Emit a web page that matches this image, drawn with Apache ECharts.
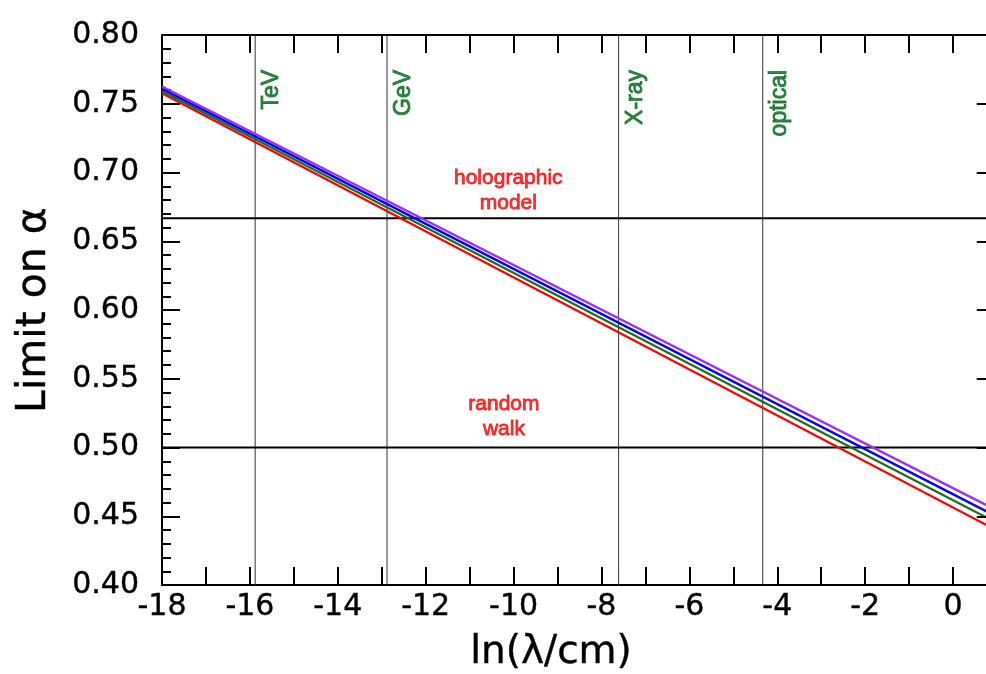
<!DOCTYPE html>
<html>
<head>
<meta charset="utf-8">
<script src="https://cdn.jsdelivr.net/npm/echarts@6/dist/echarts.min.js"></script>
<style>
  html, body { margin: 0; padding: 0; background: #fff; }
  #chart { width: 986px; height: 674px; }
</style>
</head>
<body>
<div id="chart"></div>
<script>
  // x ends of the straight limit lines, ln(lambda/cm)
  const xEnds = [-18, 1]
  const redLine = [0.7577, 0.4396]
  const greenLine = [0.7592, 0.4451]
  const blueLine = [0.7610, 0.4496]
  const purpleLine = [0.7625, 0.4542]

  // reference levels
  const holographicLevel = 2 / 3
  const randomWalkLevel = 0.5

  // energy scale markers
  const bandNames = ['TeV', 'GeV', 'X-ray', 'optical']
  const bandX = [-15.88, -12.88, -7.61, -4.33]

  const yTicks = ['0.40', '0.45', '0.50', '0.55', '0.60', '0.65', '0.70', '0.75', '0.80']

  const chart = echarts.init(document.getElementById('chart'))

  const axisFont = 'DejaVu Sans, Lucida Grande, sans-serif'
  const black = '#000'
  const rightTickLen = 0.46 // in x units, about 20px

  const limitSeries = [
    { name: 'red', data: redLine, color: '#ff0000' },
    { name: 'green', data: greenLine, color: '#17701a' },
    { name: 'blue', data: blueLine, color: '#0000ff' },
    { name: 'purple', data: purpleLine, color: '#a030f0' }
  ].map(s => ({
    name: s.name,
    type: 'line',
    data: xEnds.map((x, i) => [x, s.data[i]]),
    symbol: 'none',
    lineStyle: { color: s.color, width: 2.3 },
    z: 4,
    silent: true
  }))

  const levelSeries = [holographicLevel, randomWalkLevel].map(v => ({
    type: 'line',
    data: xEnds.map(x => [x, v]),
    symbol: 'none',
    lineStyle: { color: black, width: 2 },
    z: 3,
    silent: true
  }))

  // right frame sits just past the picture edge, only its tick stubs show
  levelSeries[0].markLine = {
    silent: true,
    symbol: 'none',
    label: { show: false },
    lineStyle: { color: black, width: 2, type: 'solid' },
    data: yTicks.map(t => [
      { coord: [xEnds[1] - rightTickLen, +t] },
      { coord: [xEnds[1], +t] }
    ])
  }

  const bandSeries = bandX.map(x => ({
    type: 'line',
    data: [[x, 0.4], [x, 0.8]],
    symbol: 'none',
    lineStyle: { color: '#333', width: 1 },
    z: 2,
    silent: true
  }))

  const tickText = { fontFamily: axisFont, fontSize: 30, color: black, textBorderColor: black, textBorderWidth: 0.4 }

  chart.setOption({
    backgroundColor: '#fff',
    animation: false,
    grid: {
      left: 162,
      top: 35,
      right: -11,
      bottom: 89,
      outerBoundsMode: 'none'
    },
    xAxis: [{
      type: 'value',
      min: -18,
      max: 1,
      interval: 1,
      name: 'ln(λ/cm)',
      nameLocation: 'middle',
      nameGap: 48,
      nameTextStyle: { fontFamily: axisFont, fontSize: 39, color: black, padding: [0, 57, 0, 0], textBorderColor: black, textBorderWidth: 0.4 },
      axisLine: { onZero: false, lineStyle: { color: black, width: 2 } },
      axisTick: { inside: true, length: 18, lineStyle: { color: black, width: 2 } },
      axisLabel: {
        ...tickText, margin: 7,
        formatter: v => (Math.round(v) % 2 === 0 ? String(Math.round(v)) : '')
      },
      splitLine: { show: false }
    }, {
      type: 'value',
      position: 'top',
      min: -18,
      max: 1,
      interval: 1,
      axisLine: { onZero: false, lineStyle: { color: black, width: 2 } },
      axisTick: { inside: true, length: 18, lineStyle: { color: black, width: 2 } },
      axisLabel: { show: false },
      splitLine: { show: false }
    }],
    yAxis: {
      type: 'value',
      min: 0.4,
      max: 0.8,
      interval: 0.05,
      name: 'Limit on α',
      nameLocation: 'middle',
      nameGap: 107,
      nameTextStyle: { fontFamily: axisFont, fontSize: 41, color: black, textBorderColor: black, textBorderWidth: 0.4 },
      axisLine: { onZero: false, lineStyle: { color: black, width: 2 } },
      axisTick: { inside: true, length: 18, lineStyle: { color: black, width: 2 } },
      minorTick: { show: true, splitNumber: 5, length: 9, lineStyle: { color: black, width: 2 } },
      axisLabel: {
        ...tickText, margin: 23,
        padding: [0, 0, 10, 0],
        formatter: v => yTicks[Math.round((v - 0.4) / 0.05)]
      },
      splitLine: { show: false }
    },
    series: [
      ...bandSeries,
      ...levelSeries,
      ...limitSeries,
      {
        type: 'scatter',
        symbolSize: 0,
        silent: true,
        z: 5,
        data: bandX.map((x, i) => ({ value: [x + 0.38, 0.7746], name: bandNames[i] })),
        label: {
          show: true,
          position: 'inside',
          rotate: 90,
          align: 'right',
          verticalAlign: 'middle',
          formatter: p => p.name,
          fontFamily: 'Liberation Sans, Arial, sans-serif',
          fontSize: 23,
          color: '#006a1a',
          textBorderColor: '#006a1a',
          textBorderWidth: 0.9
        }
      },
      {
        type: 'scatter',
        symbolSize: 0,
        silent: true,
        z: 5,
        data: [
          { value: [-10.12, 0.687], name: 'holographic\nmodel' },
          { value: [-10.22, 0.5223], name: 'random\nwalk' }
        ],
        label: {
          show: true,
          position: 'inside',
          align: 'center',
          verticalAlign: 'middle',
          lineHeight: 25,
          formatter: p => p.name,
          fontFamily: 'Liberation Sans, Arial, sans-serif',
          fontSize: 21,
          color: '#ff0000',
          textBorderColor: '#ff0000',
          textBorderWidth: 0.8
        }
      }
    ]
  })
</script>
</body>
</html>
